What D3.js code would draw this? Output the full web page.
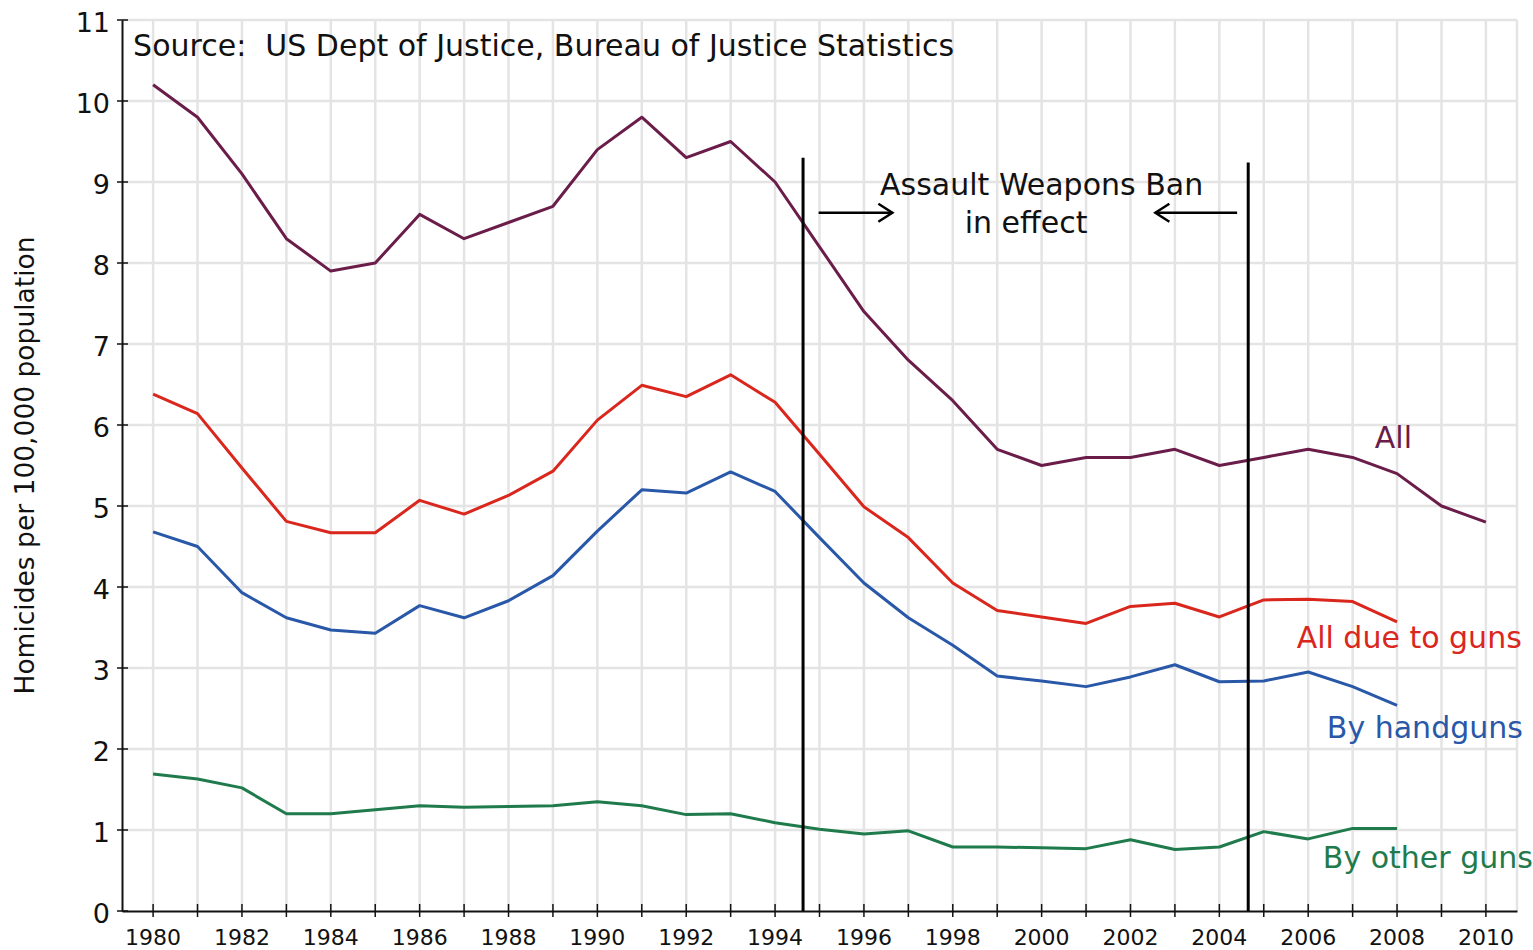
<!DOCTYPE html>
<html>
<head>
<meta charset="utf-8">
<script src="https://cdn.jsdelivr.net/npm/d3@7"></script>
<style>
  body { margin: 0; background: #fff; }
  svg text { font-family: "DejaVu Sans", sans-serif; }
</style>
</head>
<body>
<svg id="chart" width="1533" height="950"></svg>
<script>
// homicide rates per 100,000
const yearsAll = d3.range(1980, 2011);
const yearsGuns = d3.range(1980, 2009);

const allHomicides = [10.2, 9.8, 9.1, 8.3, 7.9, 8.0, 8.6, 8.3, 8.5, 8.7,
    9.4, 9.8, 9.3, 9.5, 9.0, 8.2, 7.4, 6.8, 6.3, 5.7,
    5.5, 5.6, 5.6, 5.7, 5.5, 5.6, 5.7, 5.6, 5.4, 5.0, 4.8];
const dueToGuns = [6.38, 6.14, 5.47, 4.81, 4.67, 4.67, 5.07, 4.90, 5.13, 5.43,
    6.06, 6.49, 6.35, 6.62, 6.28, 5.64, 4.99, 4.61, 4.05, 3.71,
    3.63, 3.55, 3.76, 3.80, 3.63, 3.84, 3.85, 3.82, 3.57];
const byHandguns = [4.68, 4.50, 3.93, 3.62, 3.47, 3.43, 3.77, 3.62, 3.83, 4.14,
    4.69, 5.20, 5.16, 5.42, 5.18, 4.61, 4.05, 3.62, 3.28, 2.90,
    2.84, 2.77, 2.89, 3.04, 2.83, 2.84, 2.95, 2.77, 2.54];
const byOtherGuns = [1.69, 1.63, 1.52, 1.20, 1.20, 1.25, 1.30, 1.28, 1.29, 1.30,
    1.35, 1.30, 1.19, 1.20, 1.09, 1.01, 0.95, 0.99, 0.79, 0.79,
    0.78, 0.77, 0.88, 0.76, 0.79, 0.98, 0.89, 1.02, 1.02];

const xTickYears = d3.range(1980, 2011, 2);
const yTickValues = d3.range(0, 12);
const banYears = [1994.63, 2004.65];

const svg = d3.select("#chart");
const mLeft = 122, mRight = 1517, mTop = 20, mBottom = 911;

const x = d3.scaleLinear().domain([1979.3, 2010.7]).range([mLeft, mRight]);
const y = d3.scaleLinear().domain([0, 11]).range([mBottom, mTop]);

// grid
const grid = svg.append("g").attr("stroke", "#e4e4e4").attr("stroke-width", 2.5);
grid.selectAll(".vg").data(yearsAll.concat([2010.7])).join("line")
    .attr("x1", d => x(d)).attr("x2", d => x(d))
    .attr("y1", y(11)).attr("y2", y(0));
grid.selectAll(".hg").data(yTickValues.slice(1)).join("line")
    .attr("x1", x(1979.3)).attr("x2", x(2010.7))
    .attr("y1", d => y(d)).attr("y2", d => y(d));

// axes
const xAxis = svg.append("g")
    .attr("transform", `translate(0,${mBottom})`)
    .call(d3.axisBottom(x).tickValues(yearsAll).tickSize(0).tickFormat(""));
xAxis.select(".domain").attr("stroke", "#111").attr("stroke-width", 2);
xAxis.selectAll(".tk").data(yearsAll).join("line")
    .attr("x1", d => x(d)).attr("x2", d => x(d))
    .attr("y1", -7).attr("y2", 6)
    .attr("stroke", "#111").attr("stroke-width", 1.5);
xAxis.selectAll(".lbl").data(xTickYears).join("text")
    .attr("x", d => x(d)).attr("y", 34)
    .attr("text-anchor", "middle")
    .attr("font-size", 22).attr("fill", "#111")
    .text(d => d);

const yAxis = svg.append("g")
    .attr("transform", `translate(${mLeft},0)`)
    .call(d3.axisLeft(y).tickValues(yTickValues).tickSize(0).tickFormat(""));
yAxis.select(".domain").attr("stroke", "#111").attr("stroke-width", 2);
yAxis.selectAll(".tk").data(yTickValues).join("line")
    .attr("x1", -5).attr("x2", 6)
    .attr("y1", d => y(d)).attr("y2", d => y(d))
    .attr("stroke", "#111").attr("stroke-width", 1.5);
yAxis.selectAll(".lbl").data(yTickValues).join("text")
    .attr("x", -12).attr("y", d => y(d) + 12)
    .attr("text-anchor", "end")
    .attr("font-size", 27).attr("fill", "#111")
    .text(d => d);

// y-axis title
svg.append("text")
    .attr("transform", `translate(34,${(mTop + mBottom) / 2}) rotate(-90)`)
    .attr("text-anchor", "middle")
    .attr("font-size", 26.5).attr("fill", "#111")
    .text("Homicides per 100,000 population");

// series
const series = [
    { years: yearsAll, values: allHomicides, color: "#6b1d4a", label: "All", lx: 2007.5, ly: 5.72 },
    { years: yearsGuns, values: dueToGuns, color: "#d9271d", label: "All due to guns", lx: 2005.74, ly: 3.25 },
    { years: yearsGuns, values: byHandguns, color: "#2a58a8", label: "By handguns", lx: 2006.42, ly: 2.14 },
    { years: yearsGuns, values: byOtherGuns, color: "#1f7a4c", label: "By other guns", lx: 2006.33, ly: 0.53 }
];

const line = d3.line().x(d => x(d[0])).y(d => y(d[1]));

series.forEach(s => {
    svg.append("path")
        .datum(d3.zip(s.years, s.values))
        .attr("fill", "none")
        .attr("stroke", s.color)
        .attr("stroke-width", 3)
        .attr("stroke-linejoin", "round")
        .attr("d", line);
    svg.append("text")
        .attr("x", x(s.lx)).attr("y", y(s.ly))
        .attr("font-size", 30).attr("fill", s.color)
        .text(s.label);
});

// assault weapons ban markers
svg.selectAll(".ban").data(banYears).join("line")
    .attr("x1", d => x(d)).attr("x2", d => x(d))
    .attr("y1", (d, i) => y(i === 0 ? 9.3 : 9.24)).attr("y2", y(0))
    .attr("stroke", "#000").attr("stroke-width", 3);

const arrows = [[1994.98, 1996.64], [2004.4, 2002.56]];
arrows.forEach(([a, b]) => {
    const g = svg.append("g").attr("stroke", "#000").attr("stroke-width", 2.5).attr("fill", "none");
    const dir = Math.sign(b - a);
    g.append("line")
        .attr("x1", x(a)).attr("x2", x(b))
        .attr("y1", y(8.62)).attr("y2", y(8.62));
    g.append("path")
        .attr("d", `M${x(b) - dir * 14},${y(8.62) - 9} L${x(b)},${y(8.62)} L${x(b) - dir * 14},${y(8.62) + 9}`);
});

svg.append("text")
    .attr("x", x(2000)).attr("y", y(8.84))
    .attr("text-anchor", "middle").attr("font-size", 30).attr("fill", "#111")
    .text("Assault Weapons Ban");
svg.append("text")
    .attr("x", x(1999.65)).attr("y", y(8.37))
    .attr("text-anchor", "middle").attr("font-size", 30).attr("fill", "#111")
    .text("in effect");

// source note
svg.append("text")
    .attr("x", x(1979.55)).attr("y", y(10.55))
    .attr("font-size", 30).attr("fill", "#111")
    .attr("xml:space", "preserve")
    .text("Source:  US Dept of Justice, Bureau of Justice Statistics");
</script>
</body>
</html>
